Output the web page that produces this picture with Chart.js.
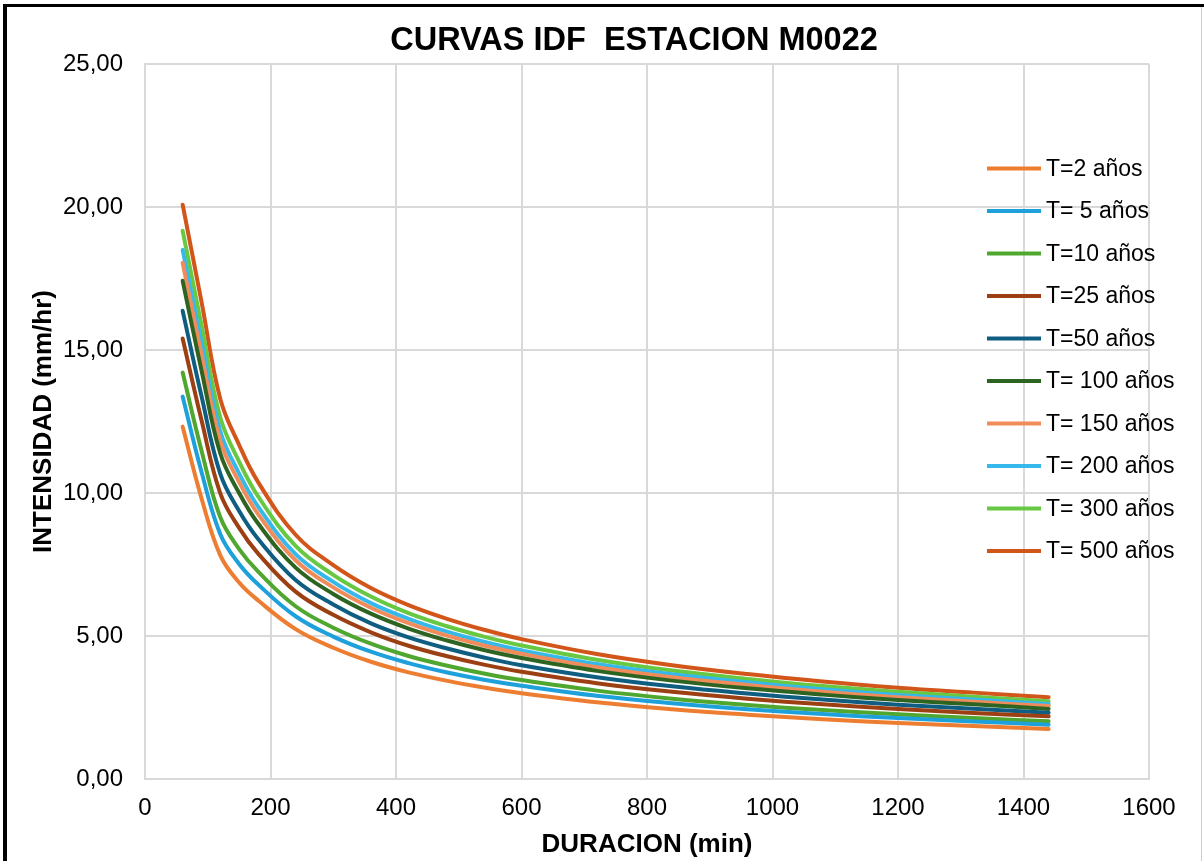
<!DOCTYPE html>
<html>
<head>
<meta charset="utf-8">
<script src="https://cdn.jsdelivr.net/npm/chart.js@4.4.1/dist/chart.umd.min.js"></script>
<style>
  body { margin: 0; background: #fff; }
  #wrap { position: relative; width: 1204px; height: 861px; overflow: hidden; }
  #frameLeft { position: absolute; left: 3px; top: 4px; width: 4px; height: 861px; background: #000; }
  #frameTop { position: absolute; left: 3px; top: 4px; width: 1201px; height: 3px; background: #000; }
  #frameRight { position: absolute; left: 1201px; top: 7px; width: 1px; height: 861px; background: #cfcfcf; }
</style>
</head>
<body>
<div id="wrap">
  <canvas id="idf" width="1204" height="861"></canvas>
  <div id="frameLeft"></div>
  <div id="frameTop"></div>
  <div id="frameRight"></div>
</div>
<script>
// duraciones (min)
const durations = [60, 90, 120, 150, 180, 240, 300, 360, 420, 480, 540, 600, 720, 840, 960, 1080, 1200, 1320, 1440];

// intensidades (mm/hr)
const t2   = [12.32, 9.82, 7.82, 6.87, 6.25, 5.24, 4.59, 4.10, 3.73, 3.44, 3.20, 3.00, 2.68, 2.44, 2.25, 2.09, 1.96, 1.85, 1.75];
const t5   = [13.37, 10.74, 8.56, 7.52, 6.81, 5.69, 4.98, 4.45, 4.05, 3.73, 3.47, 3.26, 2.91, 2.65, 2.44, 2.27, 2.13, 2.01, 1.90];
const t10  = [14.21, 11.49, 9.15, 8.04, 7.26, 6.04, 5.29, 4.73, 4.30, 3.97, 3.69, 3.46, 3.09, 2.81, 2.59, 2.41, 2.26, 2.13, 2.02];
const t25  = [15.40, 12.55, 9.99, 8.78, 7.89, 6.55, 5.74, 5.13, 4.66, 4.30, 4.00, 3.75, 3.35, 3.05, 2.81, 2.61, 2.45, 2.31, 2.19];
const t50  = [16.37, 13.39, 10.67, 9.37, 8.40, 6.96, 6.10, 5.44, 4.95, 4.57, 4.25, 3.98, 3.56, 3.24, 2.99, 2.78, 2.60, 2.46, 2.32];
const t100 = [17.42, 14.29, 11.38, 10.00, 8.94, 7.39, 6.47, 5.78, 5.26, 4.85, 4.51, 4.23, 3.78, 3.44, 3.17, 2.95, 2.76, 2.61, 2.45];
const t150 = [18.05, 14.84, 11.82, 10.38, 9.27, 7.65, 6.70, 5.99, 5.45, 5.02, 4.67, 4.38, 3.91, 3.56, 3.29, 3.05, 2.86, 2.70, 2.55];
const t200 = [18.50, 15.27, 12.16, 10.68, 9.53, 7.86, 6.89, 6.15, 5.60, 5.16, 4.80, 4.50, 4.02, 3.66, 3.38, 3.14, 2.94, 2.78, 2.62];
const t300 = [19.17, 15.87, 12.64, 11.10, 9.89, 8.15, 7.14, 6.38, 5.80, 5.35, 4.98, 4.67, 4.17, 3.79, 3.50, 3.25, 3.05, 2.88, 2.72];
const t500 = [20.08, 16.69, 13.29, 11.68, 10.39, 8.54, 7.48, 6.68, 6.08, 5.61, 5.22, 4.89, 4.37, 3.98, 3.67, 3.41, 3.19, 3.02, 2.86];

const seriesNames = ["T=2 años", "T= 5 años", "T=10 años", "T=25 años", "T=50 años",
                     "T= 100 años", "T= 150 años", "T= 200 años", "T= 300 años", "T= 500 años"];
const seriesData = [t2, t5, t10, t25, t50, t100, t150, t200, t300, t500];
const seriesColors = ["#ed7d31", "#1ea0da", "#4fa72f", "#9c4014", "#0f5d81",
                      "#2e6422", "#ef8c5a", "#37b8eb", "#68c842", "#d2551a"];

const FONT = "'Liberation Sans', Arial, sans-serif";

// titulo y leyenda dibujados a mano para quedar como en Excel
const idfDecor = {
  id: "idfDecor",
  afterDraw(chart) {
    const ctx = chart.ctx;
    ctx.save();
    ctx.fillStyle = "#000";
    ctx.font = "bold 32.5px " + FONT;
    ctx.textAlign = "center";
    ctx.textBaseline = "alphabetic";
    ctx.fillText("CURVAS IDF  ESTACION M0022", 634, 50);

    ctx.font = "23px " + FONT;
    ctx.textAlign = "left";
    ctx.textBaseline = "middle";
    chart.data.datasets.forEach((ds, i) => {
      const y = 168.5 + i * 42.5;
      ctx.strokeStyle = ds.borderColor;
      ctx.lineWidth = 4;
      ctx.beginPath();
      ctx.moveTo(987, y);
      ctx.lineTo(1041, y);
      ctx.stroke();
      ctx.fillStyle = "#000";
      ctx.fillText(ds.label, 1046, y + 1);
    });
    ctx.restore();
  }
};

new Chart(document.getElementById("idf"), {
  type: "line",
  data: {
    datasets: seriesData.map((vals, i) => ({
      label: seriesNames[i],
      data: durations.map((d, j) => ({ x: d, y: vals[j] })),
      borderColor: seriesColors[i],
      backgroundColor: seriesColors[i],
      borderWidth: 4,
      borderCapStyle: "round",
      pointRadius: 0,
      fill: false,
      tension: 0.4
    }))
  },
  options: {
    responsive: false,
    devicePixelRatio: 1,
    animation: false,
    layout: { padding: { top: 64, right: 55, left: 0, bottom: 0 } },
    plugins: {
      legend: { display: false },
      title: { display: false },
      tooltip: { enabled: false }
    },
    scales: {
      x: {
        type: "linear",
        min: 0,
        max: 1600,
        afterFit: s => { s.height = 82; },
        ticks: { stepSize: 200, color: "#000", padding: 15, font: { family: FONT, size: 24 }, maxRotation: 0,
                 callback: v => String(v) },
        grid: { color: "#d9d9d9", lineWidth: 2, drawTicks: false },
        border: { color: "#d9d9d9", width: 2 },
        title: { display: true, text: "DURACION (min)", color: "#000",
                 font: { family: FONT, size: 26, weight: "bold" }, padding: { top: 0, bottom: 1 } }
      },
      y: {
        min: 0,
        max: 25,
        afterFit: s => { s.width = 145; },
        ticks: { stepSize: 5, color: "#000", padding: 22, font: { family: FONT, size: 24 },
                 callback: v => v.toFixed(2).replace(".", ",") },
        grid: { color: "#d9d9d9", lineWidth: 2, drawTicks: false },
        border: { color: "#d9d9d9", width: 2 },
        title: { display: true, text: "INTENSIDAD (mm/hr)", color: "#000",
                 font: { family: FONT, size: 26, weight: "bold" }, padding: { top: 28, bottom: 0 } }
      }
    }
  },
  plugins: [idfDecor]
});
</script>
</body>
</html>
